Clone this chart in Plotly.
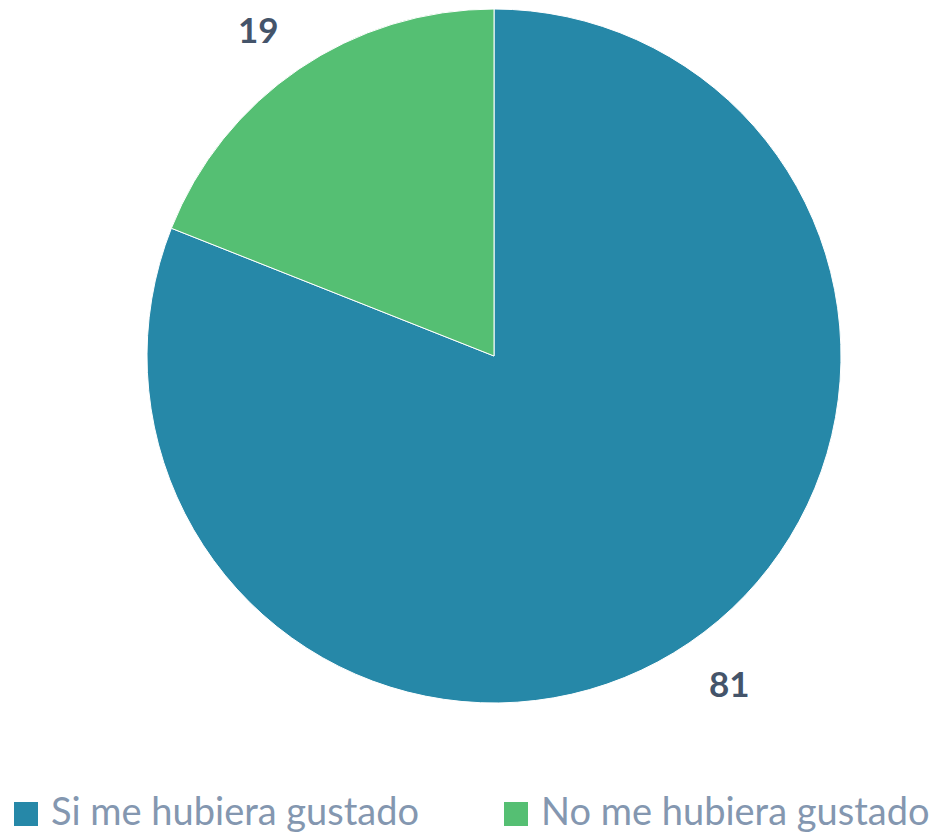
import math
import plotly.graph_objects as go

labels = ["Si me hubiera gustado", "No me hubiera gustado"]
values = [81, 19]
colors = ["#2688A8", "#55BF73"]

# the page adds an 8px body margin; the figure is sized to fit the window
OFF = 8
W, H = 946 - OFF, 833 - OFF
# pie geometry in screen pixels (layout only), converted to figure pixels
cx, cy, R = 494 - OFF, 356 - OFF, 347

dom_x = [(cx - R) / W, (cx + R) / W]
dom_y = [(H - cy - R) / H, (H - cy + R) / H]

fig = go.Figure(go.Pie(
    labels=labels, values=values, sort=False, direction="clockwise", rotation=0,
    marker=dict(colors=colors, line=dict(color="white", width=1)),
    textinfo="none", hoverinfo="label+value",
    domain=dict(x=dom_x, y=dom_y), showlegend=False,
))

# value labels outside, placed along the mid-angle of each slice
total = sum(values)
acc = 0
for v in values:
    mid = (acc + v / 2) / total * 2 * math.pi
    acc += v
    px = cx + 1.205 * R * math.sin(mid)
    py = cy - 1.14 * R * math.cos(mid)
    fig.add_annotation(x=px / W, y=1 - py / H, xref="paper", yref="paper",
                       xanchor="center", yanchor="middle", borderpad=0,
                       text=f"<b>{v}</b>", showarrow=False,
                       font=dict(family="Lato, sans-serif", size=35, color="#44546A"))

# legend drawn manually (square + text)
leg_sq_x = [14 - OFF, 504 - OFF]
leg_txt_x = [49 - OFF, 539 - OFF]
sq = 24
sq_top = 802 - OFF
txt_mid = 810 - OFF
for i, lab in enumerate(labels):
    x0 = leg_sq_x[i]
    fig.add_shape(type="rect", xref="paper", yref="paper",
                  x0=x0 / W, x1=(x0 + sq) / W,
                  y0=1 - (sq_top + sq) / H, y1=1 - sq_top / H,
                  fillcolor=colors[i], line=dict(width=0))
    fig.add_annotation(x=leg_txt_x[i] / W, y=1 - txt_mid / H, xref="paper", yref="paper",
                       xanchor="left", yanchor="middle", text=lab, showarrow=False,
                       font=dict(family="Lato, sans-serif", size=38, color="#8497B0"))

fig.update_layout(
    width=W, height=H,
    margin=dict(l=0, r=0, t=0, b=0, autoexpand=False),
    paper_bgcolor="white", plot_bgcolor="white",
    showlegend=False,
)

fig.write_html("out.html")
